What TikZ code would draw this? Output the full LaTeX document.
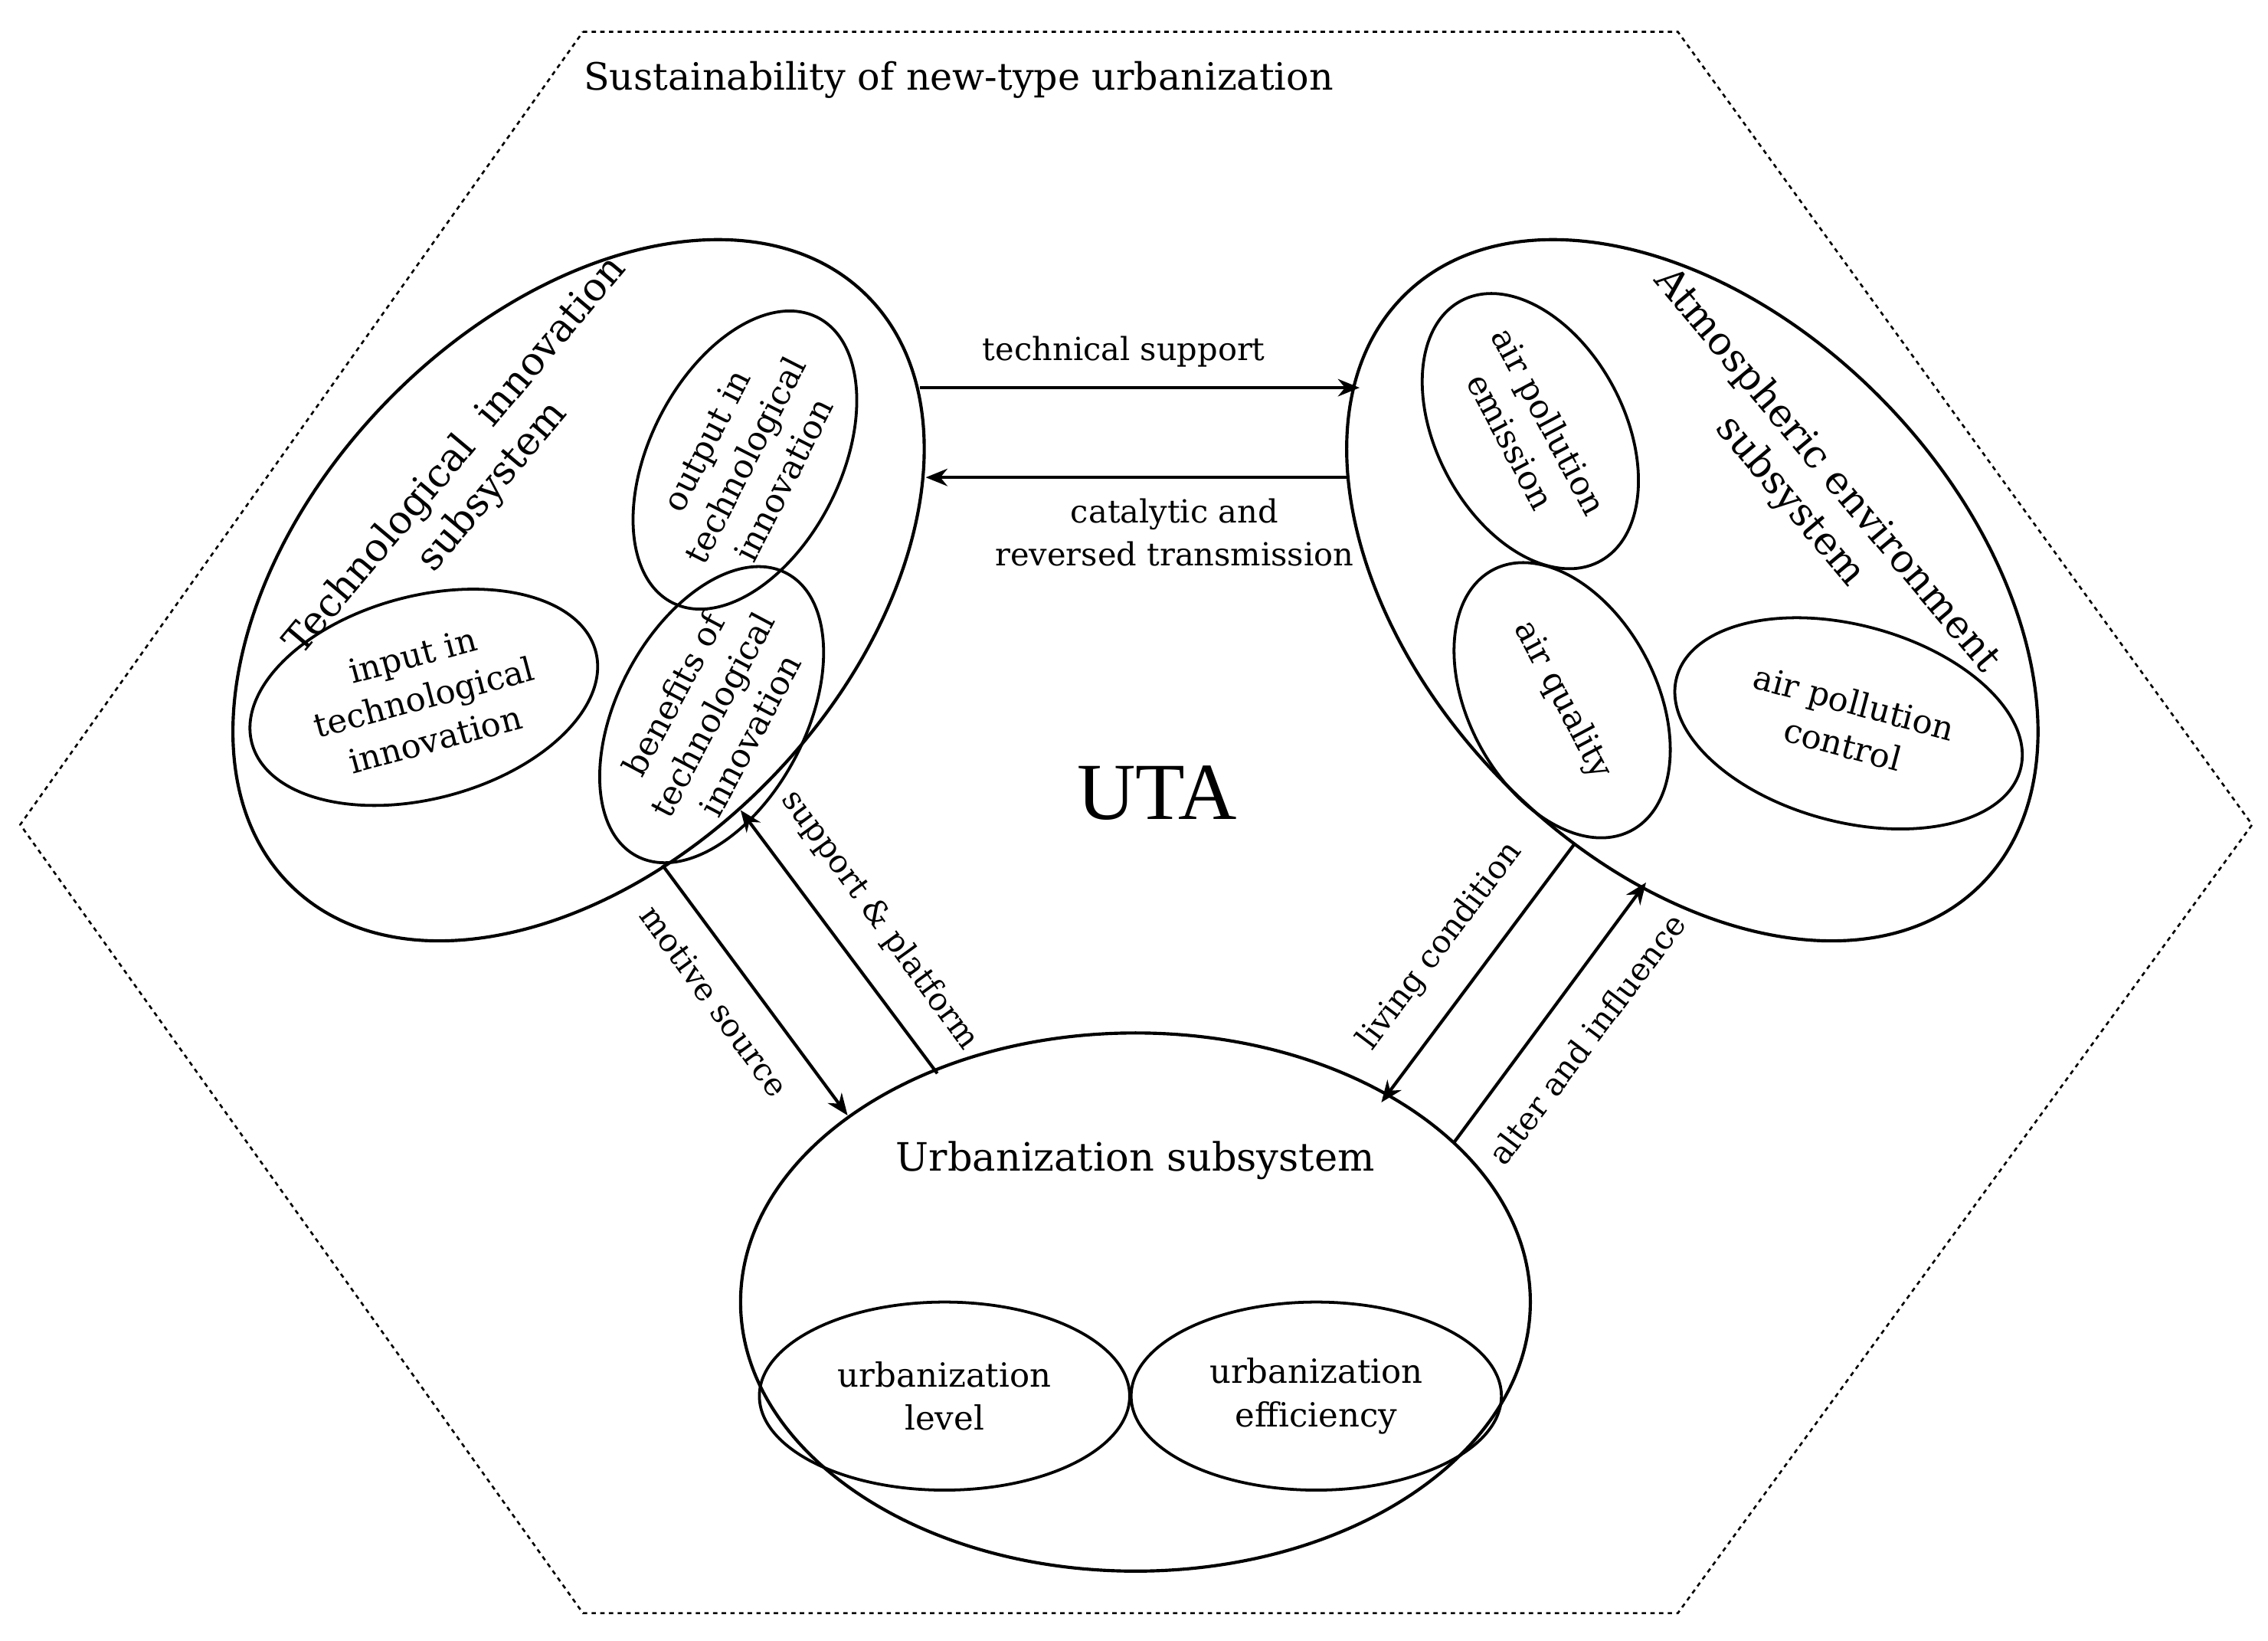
\documentclass[tikz,border=0pt]{standalone}
\usepackage{fontspec}
\setmainfont{DejaVu Serif}
\newfontfamily\timesf{Liberation Serif}
\usetikzlibrary{shapes.geometric,arrows.meta}
\begin{document}
\begin{tikzpicture}[x=1pt,y=1pt,
  ell/.style={draw,line width=2pt,ellipse,inner sep=0pt,align=center,font=\fontsize{23}{30}\selectfont},
  big/.style={draw,line width=2.2pt,ellipse,inner sep=0pt},
  arr/.style={line width=2.2pt,-{Stealth[length=15pt,width=12pt]}},
  lab/.style={font=\fontsize{22}{30}\selectfont,align=center},
  ttl/.style={font=\fontsize{27}{33}\selectfont,align=center}]
\useasboundingbox (0,-1134) rectangle (1568,0);
\draw[dashed,line width=1.4pt] (403,-22) -- (1160,-22) -- (1557,-570) -- (1160,-1115) -- (403,-1115) -- (14,-570) -- cycle;
\node[anchor=west,font=\fontsize{26}{28}\selectfont] (title) at (400,-55) {Sustainability of new-type urbanization};
% left
\node[big,minimum width=570pt,minimum height=372pt,rotate=46] (L) at (400,-408) {};
\node[ell,minimum width=206pt,minimum height=132pt,rotate=63] (lo) at (515,-318) {output in\\technological\\innovation};
\node[ell,minimum width=246pt,minimum height=140pt,rotate=15] (li) at (293,-482) {input in\\technological\\innovation};
\node[ell,minimum width=212pt,minimum height=130pt,rotate=62] (lb) at (492,-494) {benefits of\\technological\\innovation};
\node[ttl,rotate=50] (lt) at (328,-326) {Technological\ \ innovation\\subsystem};
% right
\node[big,minimum width=570pt,minimum height=372pt,rotate=-46] (R) at (1170,-408) {};
\node[ell,minimum width=204pt,minimum height=130pt,rotate=-62] (re) at (1058,-298) {air pollution\\emission};
\node[ell,minimum width=204pt,minimum height=130pt,rotate=-62] (rq) at (1080,-484) {air quality};
\node[ell,minimum width=246pt,minimum height=136pt,rotate=-15] (rc) at (1278,-500) {air pollution\\control};
\node[ttl,rotate=-50] (rt) at (1250,-336) {Atmospheric\ environment\\subsystem};
% bottom
\node[big,minimum width=546pt,minimum height=372pt] (B) at (785,-900) {};
\node[ttl] (bt) at (785,-802) {Urbanization subsystem};
\node[ell,minimum width=256pt,minimum height=130pt] (bl) at (653,-965) {urbanization\\level};
\node[ell,minimum width=256pt,minimum height=130pt] (be) at (910,-965) {urbanization\\efficiency};
\node[font=\timesf\fontsize{56}{58}\selectfont] (uta) at (800,-548) {UTA};
% arrows
\coordinate (a1) at (636,-268); \coordinate (a2) at (940,-268);
\coordinate (b1) at (932,-330); \coordinate (b2) at (640,-330);
\coordinate (c1) at (458,-598); \coordinate (c2) at (586,-771);
\coordinate (d1) at (648,-742); \coordinate (d2) at (512,-560);
\coordinate (e1) at (1088,-584); \coordinate (e2) at (955,-762);
\coordinate (f1) at (1005,-790); \coordinate (f2) at (1138,-610);
\draw[arr] (a1) -- (a2);
\draw[arr] (b1) -- (b2);
\draw[arr] (c1) -- (c2);
\draw[arr] (d1) -- (d2);
\draw[arr] (e1) -- (e2);
\draw[arr] (f1) -- (f2);
\node[lab] (la) at (777,-243) {technical support};
\node[lab] (lb2) at (812,-368) {catalytic and\\reversed transmission};
\node[lab,rotate=-54] (lc) at (494,-692) {motive source};
\node[lab,rotate=-54] (ld) at (608,-636) {support \& platform};
\node[lab,rotate=53] (le) at (996,-654) {living condition};
\node[lab,rotate=53] (lf) at (1097,-718) {alter and influence};
\end{tikzpicture}
\end{document}
